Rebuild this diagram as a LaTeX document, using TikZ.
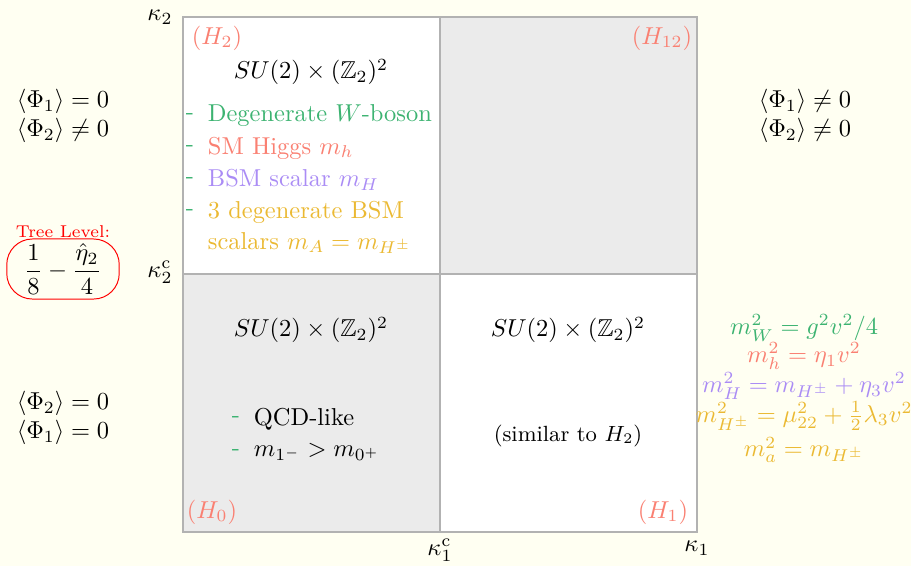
\documentclass[tikz,border=0pt]{standalone}
\usepackage{amsmath,amssymb}
\definecolor{bgc}{RGB}{255,255,242}
\definecolor{gridc}{RGB}{178,178,178}
\definecolor{cellg}{RGB}{235,235,235}
\definecolor{cgreen}{RGB}{60,179,113}
\definecolor{csalmon}{RGB}{250,128,114}
\definecolor{cpurple}{RGB}{170,140,245}
\definecolor{cyellow}{RGB}{235,185,50}
\begin{document}
\begin{tikzpicture}[x=0.409pt,y=-0.409pt,
  lab/.style={inner sep=1pt,text=csalmon},
  txt/.style={inner sep=1pt,align=center},
  item/.style={inner sep=1pt,anchor=west},
  dsh/.style={inner sep=1pt,anchor=west,text=cgreen}]
\fill[bgc] (0,0) rectangle (911,566);
\useasboundingbox (0,0) rectangle (911,566);
% quadrants
\fill[white] (183,17) rectangle (440,274);
\fill[cellg] (440,17) rectangle (697,274);
\fill[cellg] (183,274) rectangle (440,532);
\fill[white] (440,274) rectangle (697,532);
\draw[gridc,line width=1.1pt] (183,17) rectangle (697,532);
\draw[gridc,line width=1.1pt] (440,17) -- (440,532);
\draw[gridc,line width=1.1pt] (183,274) -- (697,274);
% axis labels
\node[txt] (k2) at (160,17) {$\kappa_2$};
\node[txt] (k2c) at (160,272) {$\kappa_2^{\mathrm{c}}$};
\node[txt] (k1c) at (440,550) {$\kappa_1^{\mathrm{c}}$};
\node[txt] (k1) at (697,548) {$\kappa_1$};
% phase labels
\node[lab] (H2) at (217,38) {$(H_2)$};
\node[lab] (H12) at (662,38) {$(H_{12})$};
\node[lab] (H0) at (212,512) {$(H_0)$};
\node[lab] (H1) at (663,512) {$(H_1)$};
% symmetry labels
\node[txt] (s2) at (311,72) {$SU(2)\times(\mathbb{Z}_2)^2$};
\node[txt] (s0) at (311,330) {$SU(2)\times(\mathbb{Z}_2)^2$};
\node[txt] (s1) at (568,330) {$SU(2)\times(\mathbb{Z}_2)^2$};
% H2 list
\foreach \yy in {116,148,180,212} \node[dsh] at (183,\yy) {-};
\node[item,text=cgreen] (i1) at (205,116) {Degenerate $W$-boson};
\node[item,text=csalmon] (i2) at (205,148) {SM Higgs $m_h$};
\node[item,text=cpurple] (i3) at (205,180) {BSM scalar $m_H$};
\node[item,text=cyellow] (i4) at (205,212) {3 degenerate BSM};
\node[item,text=cyellow] (i5) at (205,243) {scalars $m_A=m_{H^\pm}$};
% H0 list
\node[dsh] at (229,419) {-};
\node[dsh] at (229,452) {-};
\node[item] (j1) at (251,419) {QCD-like};
\node[item] (j2) at (251,452) {$m_{1^-}>m_{0^+}$};
% H1
\node[txt,font=\small] (sim) at (568,436) {(similar to $H_2$)};
% vevs
\node[txt] (v1) at (63,116) {$\langle\Phi_1\rangle=0$\\$\langle\Phi_2\rangle\neq0$};
\node[txt] (v2) at (63,418) {$\langle\Phi_2\rangle=0$\\$\langle\Phi_1\rangle=0$};
\node[txt] (v3) at (805,116) {$\langle\Phi_1\rangle\neq0$\\$\langle\Phi_2\rangle\neq0$};
% tree level
\node[txt,text=red,font=\scriptsize] (tl) at (63,232) {Tree Level:};
\node[draw=red,rounded corners=10.5pt,minimum width=46pt,minimum height=21pt,inner sep=2pt] (tf) at (63,269) {$\dfrac{1}{8}-\dfrac{\hat\eta_2}{4}$};
% masses
\node[txt,text=cgreen] (m1) at (804,328) {$m_W^2=g^2v^2/4$};
\node[txt,text=csalmon] (m2) at (804,356) {$m_h^2=\eta_1v^2$};
\node[txt,text=cpurple] (m3) at (804,386) {$m_H^2=m_{H^\pm}+\eta_3v^2$};
\node[txt,text=cyellow] (m4) at (804,416) {$m_{H^\pm}^2=\mu_{22}^2+\frac12\lambda_3v^2$};
\node[txt,text=cyellow] (m5) at (804,450) {$m_a^2=m_{H^\pm}$};
\end{tikzpicture}
\end{document}
